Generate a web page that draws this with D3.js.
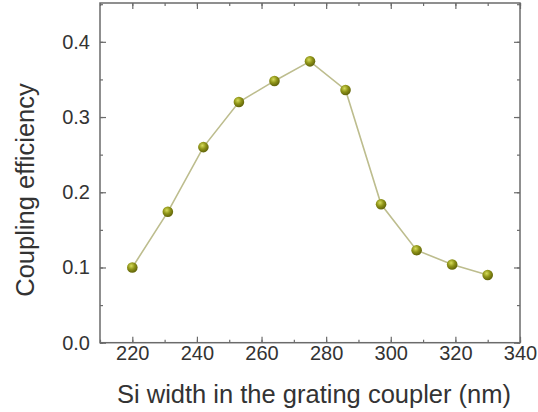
<!doctype html>
<head>
  <meta charset="utf-8">
  <script src="https://cdnjs.cloudflare.com/ajax/libs/d3/7.8.2/d3.min.js"></script>
</head>
<style>
    body { margin: 0; background: #fff; }
    text { font-family: "Liberation Sans", Arial, sans-serif; fill: #333; }
</style>
<body>
    <div id="chart"></div>
    <script>
        // datos
        const widths = [220, 231, 242, 253, 264, 275, 286, 297, 308, 319, 330];
        const efficiency = [0.100, 0.174, 0.260, 0.320, 0.348, 0.374, 0.336, 0.184, 0.123, 0.104, 0.090];
        const xTicks = [220, 240, 260, 280, 300, 320, 340];
        const yTicks = [0.0, 0.1, 0.2, 0.3, 0.4];

        const data = widths.map((w, i) => ({x: w, y: efficiency[i]}));

        const width = 538, height = 412;
        const margin = {left: 100, right: 18, top: 3, bottom: 70};

        const svg = d3.select('#chart')
            .append('svg')
            .attr('width', width)
            .attr('height', height);

        const x = d3.scaleLinear().domain([210, 340]).range([margin.left, width - margin.right]);
        const y = d3.scaleLinear().domain([0, 0.4516]).range([height - margin.bottom + 0.7, margin.top]);

        const axisColor = '#6b6b6b';

        // ticks menores y mayores hacia dentro, en los cuatro lados
        const xMinor = d3.range(210, 341, 10);
        const yMinor = d3.range(0, 0.451, 0.05);

        const drawAxis = (axis, transform) => {
            const g = svg.append('g').attr('transform', transform).call(axis);
            g.select('.domain').remove();
            g.selectAll('line').attr('stroke', axisColor).attr('stroke-width', 1.2);
            return g;
        };

        // menores
        drawAxis(d3.axisBottom(x).tickValues(xMinor).tickSize(-3).tickFormat(''), `translate(0,${y(0)})`);
        drawAxis(d3.axisTop(x).tickValues(xMinor).tickSize(-3).tickFormat(''), `translate(0,${margin.top})`);
        drawAxis(d3.axisLeft(y).tickValues(yMinor).tickSize(-3).tickFormat(''), `translate(${margin.left},0)`);
        drawAxis(d3.axisRight(y).tickValues(yMinor).tickSize(-3).tickFormat(''), `translate(${width - margin.right},0)`);

        // mayores con etiquetas
        const gx = drawAxis(d3.axisBottom(x).tickValues(xTicks).tickSize(-6).tickPadding(3).tickFormat(d3.format('d')), `translate(0,${y(0)})`);
        gx.selectAll('text').attr('font-size', 20).attr('fill', '#333');
        const gy = drawAxis(d3.axisLeft(y).tickValues(yTicks).tickSize(-6).tickPadding(10).tickFormat(d3.format('.1f')), `translate(${margin.left},0)`);
        gy.selectAll('text').attr('font-size', 20).attr('fill', '#333');
        drawAxis(d3.axisTop(x).tickValues(xTicks).tickSize(-6).tickFormat(''), `translate(0,${margin.top})`);
        drawAxis(d3.axisRight(y).tickValues(yTicks).tickSize(-6).tickFormat(''), `translate(${width - margin.right},0)`);

        // marco
        svg.append('rect')
            .attr('x', x(210)).attr('y', y(0.4516))
            .attr('width', x(340) - x(210)).attr('height', y(0) - y(0.4516))
            .attr('fill', 'none').attr('stroke', axisColor).attr('stroke-width', 1.5);

        // gradiente de los marcadores
        const grad = svg.append('defs').append('radialGradient')
            .attr('id', 'ball').attr('cx', '40%').attr('cy', '35%').attr('r', '60%');
        grad.append('stop').attr('offset', '0%').attr('stop-color', '#d6dc5a');
        grad.append('stop').attr('offset', '55%').attr('stop-color', '#8f9418');
        grad.append('stop').attr('offset', '100%').attr('stop-color', '#676a0c');

        const line = d3.line().x(d => x(d.x)).y(d => y(d.y));
        svg.append('path')
            .datum(data)
            .attr('d', line)
            .attr('fill', 'none')
            .attr('stroke', '#bdbd8e')
            .attr('stroke-width', 1.6);

        svg.selectAll('.pt')
            .data(data)
            .enter()
            .append('circle')
            .attr('class', 'pt')
            .attr('cx', d => x(d.x))
            .attr('cy', d => y(d.y))
            .attr('r', 5.3)
            .attr('fill', 'url(#ball)');

        // titulos
        svg.append('text')
            .attr('x', 314).attr('y', 403)
            .attr('text-anchor', 'middle')
            .attr('font-size', 25.5)
            .text('Si width in the grating coupler (nm)');

        svg.append('text')
            .attr('transform', 'translate(34,190) rotate(-90)')
            .attr('text-anchor', 'middle')
            .attr('font-size', 25.5)
            .text('Coupling efficiency');
    </script>
</body>
